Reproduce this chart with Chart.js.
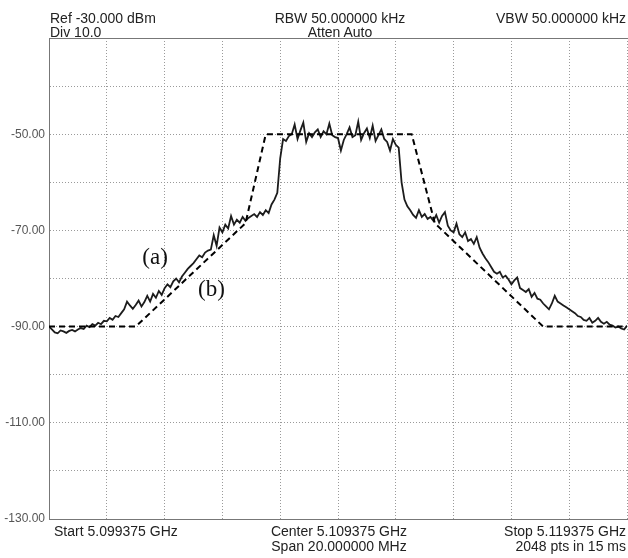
<!DOCTYPE html>
<html>
<head>
<meta charset="utf-8">
<script src="https://cdn.jsdelivr.net/npm/chart.js@4.4.1/dist/chart.umd.min.js"></script>
<style>
    html, body { margin: 0; padding: 0; background: #fff; }
    #wrap { position: relative; width: 628px; height: 558px; }
    .lbl {
        position: absolute;
        font-family: "Liberation Sans", Arial, sans-serif;
        font-size: 14px;
        line-height: 14px;
        color: #222;
        white-space: nowrap;
    }
</style>
</head>
<body>
<div id="wrap">
    <canvas id="spectrum" width="628" height="558"></canvas>
    <div class="lbl" style="left:50px; top:11px;">Ref -30.000 dBm</div>
    <div class="lbl" style="left:50px; top:25px;">Div 10.0</div>
    <div class="lbl" style="left:240px; width:200px; text-align:center; top:11px;">RBW 50.000000 kHz</div>
    <div class="lbl" style="left:240px; width:200px; text-align:center; top:25px;">Atten Auto</div>
    <div class="lbl" style="right:2px; top:11px;">VBW 50.000000 kHz</div>
    <div class="lbl" style="left:54px; top:524px;">Start 5.099375 GHz</div>
    <div class="lbl" style="left:239px; width:200px; text-align:center; top:524px;">Center 5.109375 GHz</div>
    <div class="lbl" style="left:239px; width:200px; text-align:center; top:539px;">Span 20.000000 MHz</div>
    <div class="lbl" style="right:2px; top:524px;">Stop 5.119375 GHz</div>
    <div class="lbl" style="right:2px; top:539px;">2048 pts in 15 ms</div>
</div>
<script>
// sweep: 20 MHz span, offsets in MHz from the start frequency
const spanMHz = 20;
const traceStepMHz = 0.1;

// measured spectrum (a), dBm, one value every 0.1 MHz
const traceDbm = [
    -90.0, -90.6, -91.2, -91.4, -90.8, -91.0, -91.3, -90.9, -90.7, -91.0,
    -90.6, -90.3, -90.5, -89.8, -90.1, -89.5, -89.8, -89.2, -89.5, -88.8,
    -88.9, -88.2, -88.6, -87.8, -88.0, -87.2, -86.4, -84.8, -85.6, -86.3,
    -85.5, -84.6, -85.8, -84.9, -83.6, -84.8, -83.2, -84.0, -82.6, -83.4,
    -82.0, -81.2, -81.8, -80.6, -80.0, -80.8, -79.6, -78.8, -78.0, -77.4,
    -76.8, -76.0, -75.2, -75.6, -74.6, -74.2, -74.0, -71.0, -73.2, -69.4,
    -70.4, -68.8, -69.6, -67.0, -68.8, -67.8, -68.4, -67.2, -68.0, -67.4,
    -67.0, -66.6, -67.2, -66.2, -66.8, -65.8, -66.4, -64.6, -63.6, -62.2,
    -55.0, -51.0, -51.4, -50.4, -50.0, -48.0, -51.0, -49.2, -47.6, -51.6,
    -49.8, -50.6, -49.6, -49.0, -50.6, -49.4, -50.0, -47.8, -50.2, -50.6,
    -50.8, -53.4, -51.2, -50.0, -48.6, -50.6, -50.2, -47.4, -51.2, -49.8,
    -48.8, -50.8, -48.2, -51.4, -50.2, -49.0, -51.0, -51.6, -53.4, -51.0,
    -52.2, -52.8, -60.0, -63.6, -65.0, -65.8, -66.8, -67.4, -65.8, -67.2,
    -66.6, -67.6, -67.2, -68.0, -66.8, -68.4, -67.0, -66.2, -69.0, -70.0,
    -70.4, -68.6, -70.8, -71.4, -70.4, -72.2, -71.8, -72.8, -71.4, -73.6,
    -74.8, -75.8, -76.6, -77.6, -78.6, -79.0, -78.6, -79.8, -79.4, -80.2,
    -81.2, -80.4, -79.8, -82.0, -82.4, -82.8, -82.2, -83.8, -83.0, -84.2,
    -84.4, -85.2, -85.8, -86.4, -85.2, -83.6, -84.8, -85.2, -85.6, -86.0,
    -86.4, -86.8, -87.2, -87.8, -88.0, -88.6, -88.8, -88.2, -89.2, -88.8,
    -88.2, -89.0, -89.4, -89.0, -89.6, -89.8, -90.2, -90.0, -90.4, -90.6, -89.8
];

// spectral mask (b)
const maskFreqMHz = [0, 3.0, 6.8, 7.5, 12.55, 13.35, 17.1, 20];
const maskDbm = [-90, -90, -68.5, -50, -50, -68.5, -90, -90];

// y axis: Ref -30 dBm, 10 dB/div
const refLevel = -30;
const bottomLevel = -130;
const dbPerDiv = 10;

// curve labels
const curveLabels = [
    { text: '(a)', x: 3.67, y: -75.8 },
    { text: '(b)', x: 5.62, y: -82.3 }
];

const tracePoints = traceDbm.map((v, i) => ({ x: i * traceStepMHz, y: v }));
const maskPoints = maskFreqMHz.map((f, i) => ({ x: f, y: maskDbm[i] }));

// frame top line + (a)/(b) labels
const frameAndLabels = {
    id: 'frameAndLabels',
    afterDraw(chart) {
        const { ctx, chartArea, scales } = chart;
        ctx.save();
        ctx.strokeStyle = '#777';
        ctx.lineWidth = 1;
        ctx.beginPath();
        ctx.moveTo(chartArea.left, chartArea.top + 0.5);
        ctx.lineTo(chartArea.right + 1, chartArea.top + 0.5);
        ctx.stroke();

        ctx.fillStyle = '#111';
        ctx.font = '23px "Liberation Serif", serif';
        ctx.textAlign = 'center';
        ctx.textBaseline = 'middle';
        curveLabels.forEach(l => {
            ctx.fillText(l.text, scales.x.getPixelForValue(l.x), scales.y.getPixelForValue(l.y));
        });
        ctx.restore();
    }
};

const ctx = document.getElementById('spectrum');
new Chart(ctx, {
    type: 'line',
    data: {
        datasets: [
            {
                label: 'Mask',
                data: maskPoints,
                borderColor: '#000',
                borderWidth: 2,
                borderDash: [6, 4],
                pointRadius: 0,
                fill: false,
                tension: 0
            },
            {
                label: 'Spectrum',
                data: tracePoints,
                borderColor: '#1c1c1c',
                borderWidth: 1.8,
                pointRadius: 0,
                fill: false,
                tension: 0
            }
        ]
    },
    options: {
        responsive: false,
        animation: false,
        layout: {
            padding: { top: 38, bottom: 39, left: 0, right: 1 }
        },
        plugins: {
            legend: { display: false },
            tooltip: { enabled: false }
        },
        scales: {
            x: {
                type: 'linear',
                min: 0,
                max: spanMHz,
                ticks: { display: false, stepSize: 2 },
                grid: { color: '#9a9a9a', lineWidth: 1, drawTicks: false },
                border: { display: true, color: '#777', width: 1, dash: [1, 2] },
                afterFit: function(scale) { scale.height = 0; }
            },
            y: {
                min: bottomLevel,
                max: refLevel,
                ticks: {
                    stepSize: dbPerDiv,
                    padding: 4,
                    color: '#555',
                    font: { family: '"Liberation Sans", Arial, sans-serif', size: 12 },
                    callback: function(value) {
                        return (value % 20 === -10 && value !== refLevel) ? value.toFixed(2) : '';
                    }
                },
                grid: { color: '#9a9a9a', lineWidth: 1, drawTicks: false },
                border: { display: true, color: '#777', width: 1, dash: [1, 2] },
                afterFit: function(scale) { scale.width = 49; }
            }
        }
    },
    plugins: [frameAndLabels]
});
</script>
</body>
</html>
